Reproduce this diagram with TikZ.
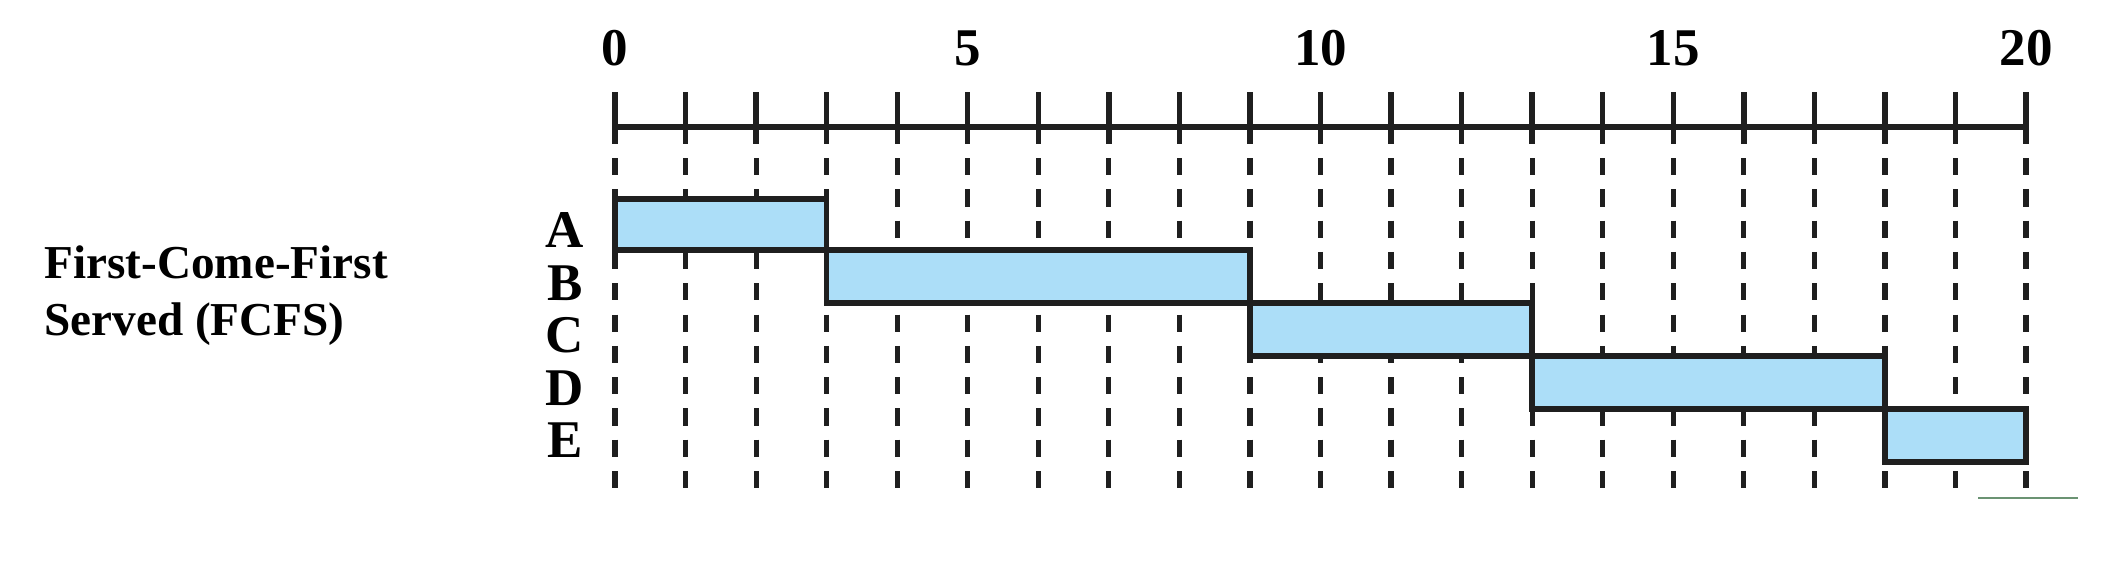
\documentclass[tikz,border=0pt]{standalone}
\usepackage{fontspec}
\setmainfont{Liberation Serif}
\definecolor{barblue}{RGB}{172,222,248}
\definecolor{smudge}{RGB}{70,120,80}
\begin{document}
\begin{tikzpicture}[x=0.5pt,y=-0.5pt,
  axisline/.style={line width=2.7pt, black!88},
  gridline/.style={line width=2.6pt, black!88, dash pattern=on 8.6pt off 7.05pt},
  barbox/.style={line width=2.7pt, draw=black!88, fill=barblue},
  numlabel/.style={font=\fontsize{26.5}{30}\selectfont\bfseries, inner sep=0, anchor=base},
  rowlabel/.style={font=\fontsize{26.5}{30}\selectfont\bfseries, inner sep=0, anchor=base},
  titlelabel/.style={font=\fontsize{23.6}{28.5}\selectfont\bfseries, inner sep=0, align=left, anchor=west}]
\useasboundingbox (0,0) rectangle (2124,568);
% time coordinates
\foreach \i in {0,...,20}{
  \pgfmathsetmacro\xx{615+70.55*\i}
  \coordinate (t\i) at (\xx,127);
}
% dashed grid lines
\foreach \i in {0,...,20}{
  \draw[gridline] (t\i |- 0,158) -- (t\i |- 0,490);
}
% bars
\draw[barbox] (t0 |- 0,199) rectangle (t3 |- 0,250);
\draw[barbox] (t3 |- 0,250) rectangle (t9 |- 0,303);
\draw[barbox] (t9 |- 0,303) rectangle (t13 |- 0,356);
\draw[barbox] (t13 |- 0,356) rectangle (t18 |- 0,409);
\draw[barbox] (t18 |- 0,409) rectangle (t20 |- 0,462);
% axis
\draw[axisline] (t0) -- (t20);
\foreach \i in {0,...,20}{
  \draw[axisline] (t\i |- 0,92) -- (t\i |- 0,144);
}
% numbers
\node[numlabel] (n0) at (t0 |- 0,65) {0};
\node[numlabel] (n5) at (t5 |- 0,65) {5};
\node[numlabel] (n10) at (t10 |- 0,65) {10};
\node[numlabel] (n15) at (t15 |- 0,65) {15};
\node[numlabel] (n20) at (t20 |- 0,65) {20};
% row letters
\node[rowlabel] (lA) at (565,247) {A};
\node[rowlabel] (lB) at (565,300) {B};
\node[rowlabel] (lC) at (565,352) {C};
\node[rowlabel] (lD) at (565,405) {D};
\node[rowlabel] (lE) at (565,457) {E};
% title
\node[titlelabel] (title) at (44,296) {First-Come-First\\Served (FCFS)};
% small stray mark
\draw[line width=1.2pt, smudge, opacity=0.8] (1978,498) -- (2078,498);
\end{tikzpicture}
\end{document}
